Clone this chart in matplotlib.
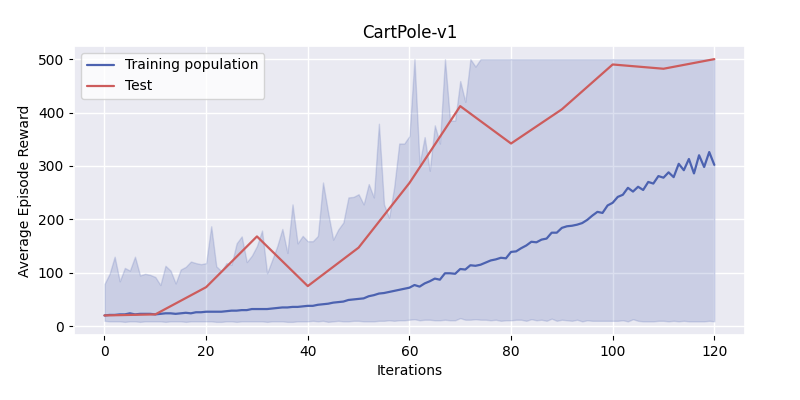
import matplotlib
matplotlib.use("Agg")
import matplotlib.pyplot as plt
import seaborn as sns
import numpy as np

iterations = list(range(121))

train_mean = [20, 21, 21, 22, 22, 24, 22, 23, 23, 23,
              22, 23, 24, 24, 23, 24, 25, 24, 26, 26,
              27, 27, 27, 27, 28, 29, 29, 30, 30, 32,
              32, 32, 32, 33, 34, 35, 35, 36, 36, 37,
              38, 38, 40, 41, 42, 44, 45, 46, 49, 50,
              51, 52, 56, 58, 61, 62, 64, 66, 68, 70,
              72, 77, 74, 80, 84, 89, 87, 99, 99, 98,
              107, 106, 114, 113, 115, 119, 123, 125, 128, 127,
              139, 140, 146, 151, 158, 157, 162, 164, 175, 175,
              184, 187, 188, 190, 193, 199, 207, 214, 212, 226,
              231, 242, 246, 259, 252, 261, 255, 270, 267, 281,
              278, 288, 279, 304, 292, 313, 286, 320, 298, 326, 302]

train_max = [79, 98, 130, 84, 109, 104, 130, 95, 98, 96,
             92, 77, 113, 104, 80, 106, 111, 121, 118, 116,
             118, 187, 112, 103, 118, 115, 155, 168, 120, 132,
             150, 179, 99, 124, 150, 182, 137, 228, 155, 169,
             159, 159, 169, 269, 213, 162, 181, 194, 241, 242,
             247, 228, 266, 241, 379, 228, 203, 260, 342, 342,
             356, 500, 304, 354, 291, 376, 342, 500, 385, 385,
             459, 420, 500, 486, 500] + [500] * 46

train_min = [10, 9, 9, 9, 8, 9, 9, 8, 9, 9,
             9, 9, 8, 9, 9, 9, 8, 9, 9, 9,
             9, 9, 8, 8, 9, 9, 8, 9, 9, 9,
             9, 9, 8, 9, 9, 9, 8, 8, 9, 9,
             9, 10, 9, 10, 8, 9, 10, 9, 9, 10,
             10, 9, 9, 9, 10, 10, 11, 10, 11, 11,
             12, 13, 11, 12, 12, 11, 11, 12, 11, 11,
             15, 12, 12, 13, 12, 12, 11, 12, 10, 11,
             11, 12, 12, 10, 13, 11, 12, 10, 14, 10,
             12, 11, 10, 12, 9, 11, 10, 10, 10, 10,
             10, 10, 11, 9, 13, 10, 9, 9, 9, 10,
             10, 9, 10, 9, 10, 9, 9, 9, 9, 10, 9]

test_iters = [0, 10, 20, 30, 40, 50, 60, 70, 80, 90, 100, 110, 120]
test_reward = [20, 22, 73, 168, 75, 147, 268, 412, 342, 406, 490, 482, 500]

sns.set_theme(style="darkgrid")
plt.rcParams['font.family'] = ['DejaVu Sans']
plt.rcParams['text.color'] = 'black'
plt.rcParams['axes.labelcolor'] = 'black'
plt.rcParams['xtick.color'] = 'black'
plt.rcParams['ytick.color'] = 'black'

fig = plt.figure(figsize=(8, 4), dpi=100)
ax = fig.add_axes([0.0925, 0.1625, 0.8385, 0.7225])

blue = "#4c62b0"
red = "#cd5c5c"
ax.fill_between(iterations, train_min, train_max, color=blue, alpha=0.2)
ax.plot(iterations, train_mean, color=blue, lw=1.6, label="Training population")
ax.plot(test_iters, test_reward, color=red, lw=1.6, label="Test")

ax.set_title("CartPole-v1", fontsize=12)
ax.set_xlabel("Iterations", fontsize=10)
ax.set_ylabel("Average Episode Reward", fontsize=10)
ax.tick_params(labelsize=10, bottom=True, left=True, length=3.5, width=0.8,
               color='black', pad=3.5)
ax.set_xticks([0, 20, 40, 60, 80, 100, 120])
ax.set_yticks([0, 100, 200, 300, 400, 500])
ax.legend(loc="upper left", fontsize=10, facecolor="white", framealpha=0.8)

fig.savefig("out.png", dpi=100)
